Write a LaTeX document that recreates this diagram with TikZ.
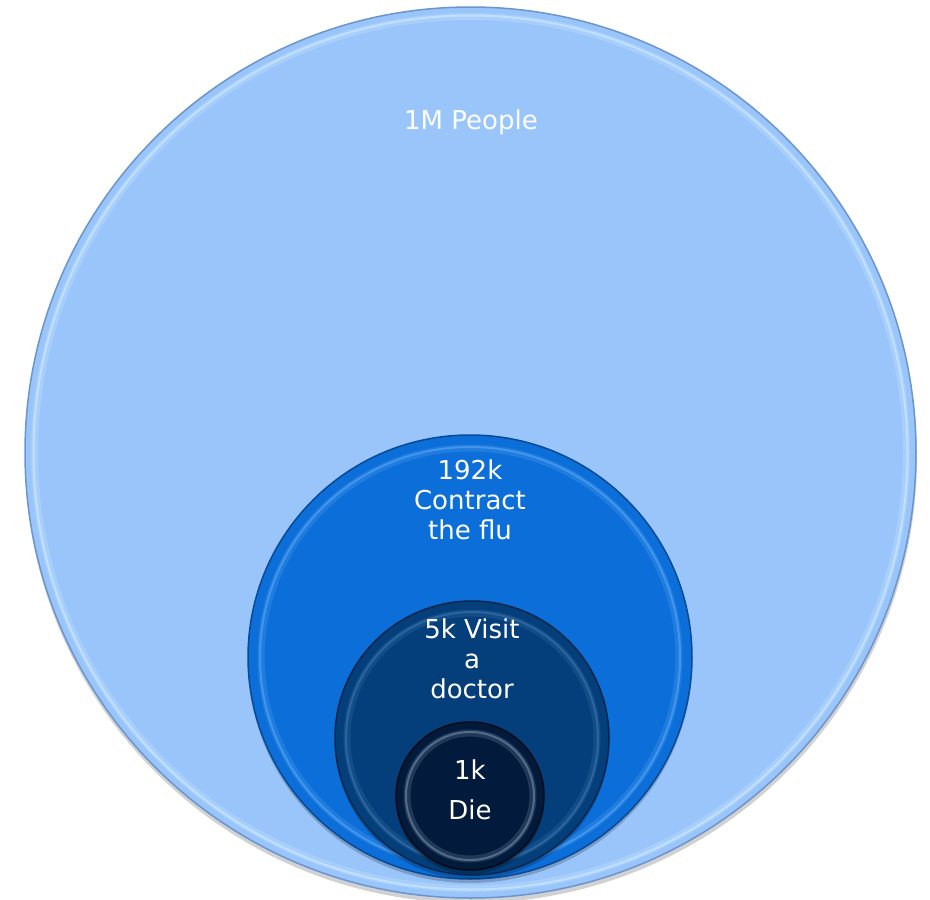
\documentclass[tikz,border=0pt]{standalone}
\usepackage{fontspec}
\setmainfont{DejaVu Sans}
\usepackage{tikz}
\usetikzlibrary{positioning}

\definecolor{peopleFill}{HTML}{99C5FB}
\definecolor{peopleEdge}{HTML}{6B95CF}
\definecolor{peopleShine}{HTML}{D6EEFF}
\definecolor{fluFill}{HTML}{0C6FD9}
\definecolor{fluEdge}{HTML}{0A4A94}
\definecolor{fluShine}{HTML}{5EAAF4}
\definecolor{doctorFill}{HTML}{043F7B}
\definecolor{doctorEdge}{HTML}{02264C}
\definecolor{doctorShine}{HTML}{4277B0}
\definecolor{dieFill}{HTML}{021B3C}
\definecolor{dieEdge}{HTML}{010A18}
\definecolor{dieShine}{HTML}{7D93B0}

\begin{document}
\begin{tikzpicture}[x=1pt, y=-1pt,
    bubble/.style={circle, inner sep=0pt, line width=1.5pt},
    shine/.style={line width=2pt, opacity=0.55},
    glow/.style={line width=7pt, opacity=0.25},
    caption/.style={text=white, align=center, font=\fontsize{26}{30}\selectfont}]
\useasboundingbox (0,0) rectangle (930,900);

% Soft shadows under each disc
\fill[black, opacity=0.18] (471,457) circle (446);

% Outer disc
\node[bubble, fill=peopleFill, draw=peopleEdge, minimum size=891pt] (people) at (470.5,452.5) {};
\draw[glow, peopleShine] (people.center) circle (436);
\draw[shine, peopleShine] (people.center) circle (437);
\node[caption] (peopletext) at (471,122) {1M People};

% Second disc
\fill[black, opacity=0.2] (470,661) circle (222);
\node[bubble, fill=fluFill, draw=fluEdge, minimum size=444pt] (flu) at (470,657) {};
\draw[glow, fluShine] (flu.center) circle (209);
\draw[shine, fluShine] (flu.center) circle (210);
\node[caption] (flutext) at (470,500) {192k\\Contract\\the flu};

% Third disc
\fill[black, opacity=0.2] (472,742) circle (137);
\node[bubble, fill=doctorFill, draw=doctorEdge, minimum size=274pt] (doctor) at (472,738) {};
\draw[glow, doctorShine] (doctor.center) circle (125);
\draw[shine, doctorShine] (doctor.center) circle (126);
\node[caption] (doctortext) at (472,659) {5k Visit\\a\\doctor};

% Inner disc
\fill[black, opacity=0.25] (470,800) circle (74);
\node[bubble, fill=dieFill, draw=dieEdge, minimum size=148pt] (die) at (470,796) {};
\draw[glow, dieShine] (die.center) circle (63);
\draw[shine, dieShine] (die.center) circle (64);
\node[caption, font=\fontsize{26}{40}\selectfont] (dietext) at (470,790) {1k\\Die};

\end{tikzpicture}
\end{document}
